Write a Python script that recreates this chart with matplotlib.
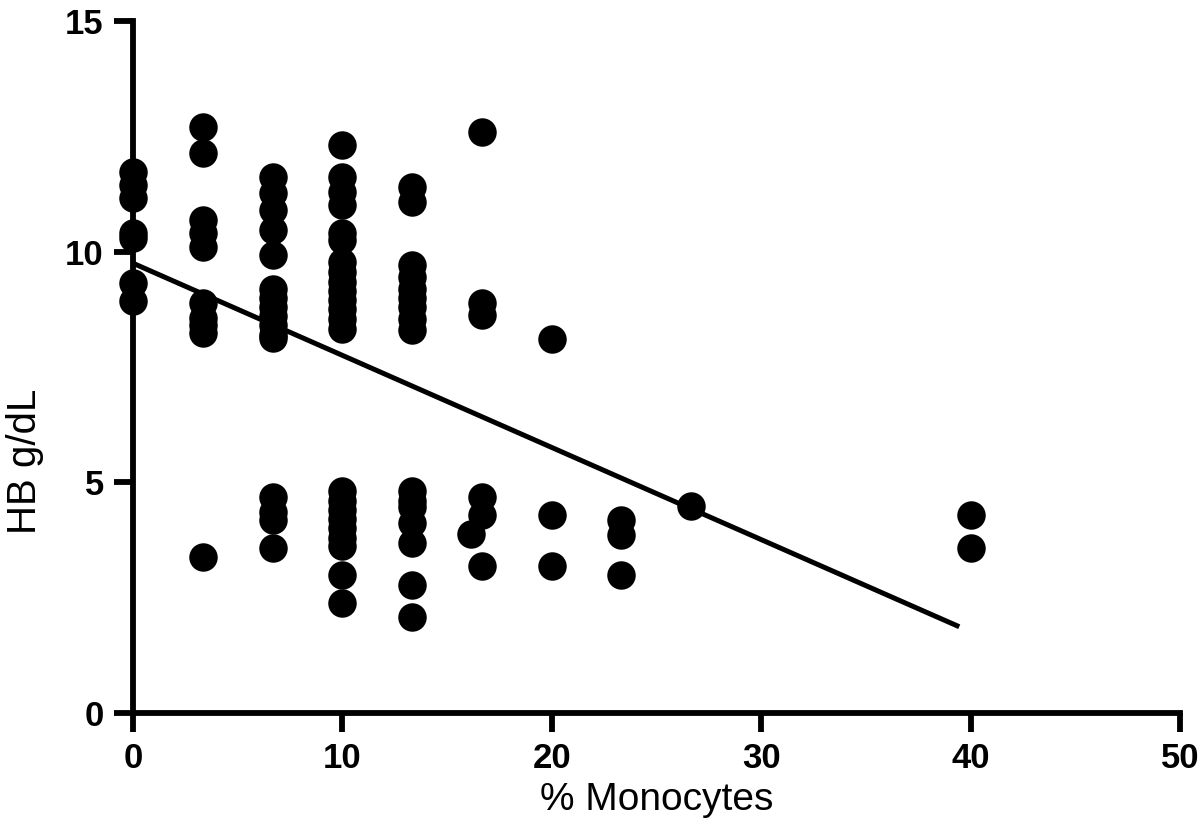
import numpy as np
import matplotlib.pyplot as plt

plt.rcParams['font.family'] = ['Liberation Sans', 'DejaVu Sans']

# % monocytes columns and the HB values (g/dL) stacked at each one
col_x = [0, 3.33, 6.67, 10, 13.33, 16.13, 16.67, 20, 23.33, 26.67, 40]
col_y = [
    [11.72, 11.44, 11.16, 10.40, 10.30, 9.32, 8.93],
    [12.71, 12.13, 10.69, 10.40, 10.11, 8.88, 8.56, 8.40, 8.23, 3.39],
    [11.62, 11.27, 10.90, 10.47, 9.93, 9.19, 9.00, 8.80, 8.60, 8.40, 8.20,
     8.13, 4.69, 4.36, 4.18, 3.57],
    [12.31, 11.61, 11.30, 11.01, 10.40, 10.25, 9.78, 9.55, 9.35, 9.15, 8.95,
     8.75, 8.55, 8.32, 4.82, 4.60, 4.40, 4.20, 4.00, 3.80, 3.62, 2.99, 2.38],
    [11.41, 11.08, 9.71, 9.45, 9.20, 9.00, 8.80, 8.55, 8.30, 4.82, 4.60,
     4.47, 4.11, 3.69, 2.77, 2.09],
    [3.88],
    [12.60, 8.88, 8.63, 4.69, 4.29, 3.19],
    [8.10, 4.29, 3.19],
    [4.18, 3.86, 2.99],
    [4.49],
    [4.29, 3.57],
]

# fitted regression line end points
fit_x = [0, 39.46]
fit_y = [9.75, 1.87]

x = np.concatenate([[cx] * len(cy) for cx, cy in zip(col_x, col_y)])
y = np.concatenate(col_y)

fig = plt.figure(figsize=(12, 8.31), dpi=100)
ax = fig.add_axes([0.1108, 0.142, 0.8725, 0.8327])

ax.plot(fit_x, fit_y, color='black', lw=3.6, solid_capstyle='butt', zorder=3)
ax.plot(x, y, 'o', color='black', ms=20.5, mew=0, zorder=4, clip_on=False)

ax.set_xlim(0, 50)
ax.set_ylim(0, 15)
ax.set_xticks([0, 10, 20, 30, 40, 50])
ax.set_yticks([0, 5, 10, 15])

for side in ['top', 'right']:
    ax.spines[side].set_visible(False)
for side in ['left', 'bottom']:
    ax.spines[side].set_linewidth(4.2)
    ax.spines[side].set_capstyle('projecting')

ax.tick_params(axis='both', direction='out', length=14, width=4.2,
               labelsize=25, pad=7)
for lab in ax.get_xticklabels() + ax.get_yticklabels():
    lab.set_fontweight('bold')

ax.set_xlabel('% Monocytes', fontsize=28)
ax.set_ylabel('HB g/dL', fontsize=29)
ax.xaxis.set_label_coords(0.5, -0.1)
ax.yaxis.set_label_coords(-0.085, 0.363)

fig.savefig('out.png', dpi=100)
